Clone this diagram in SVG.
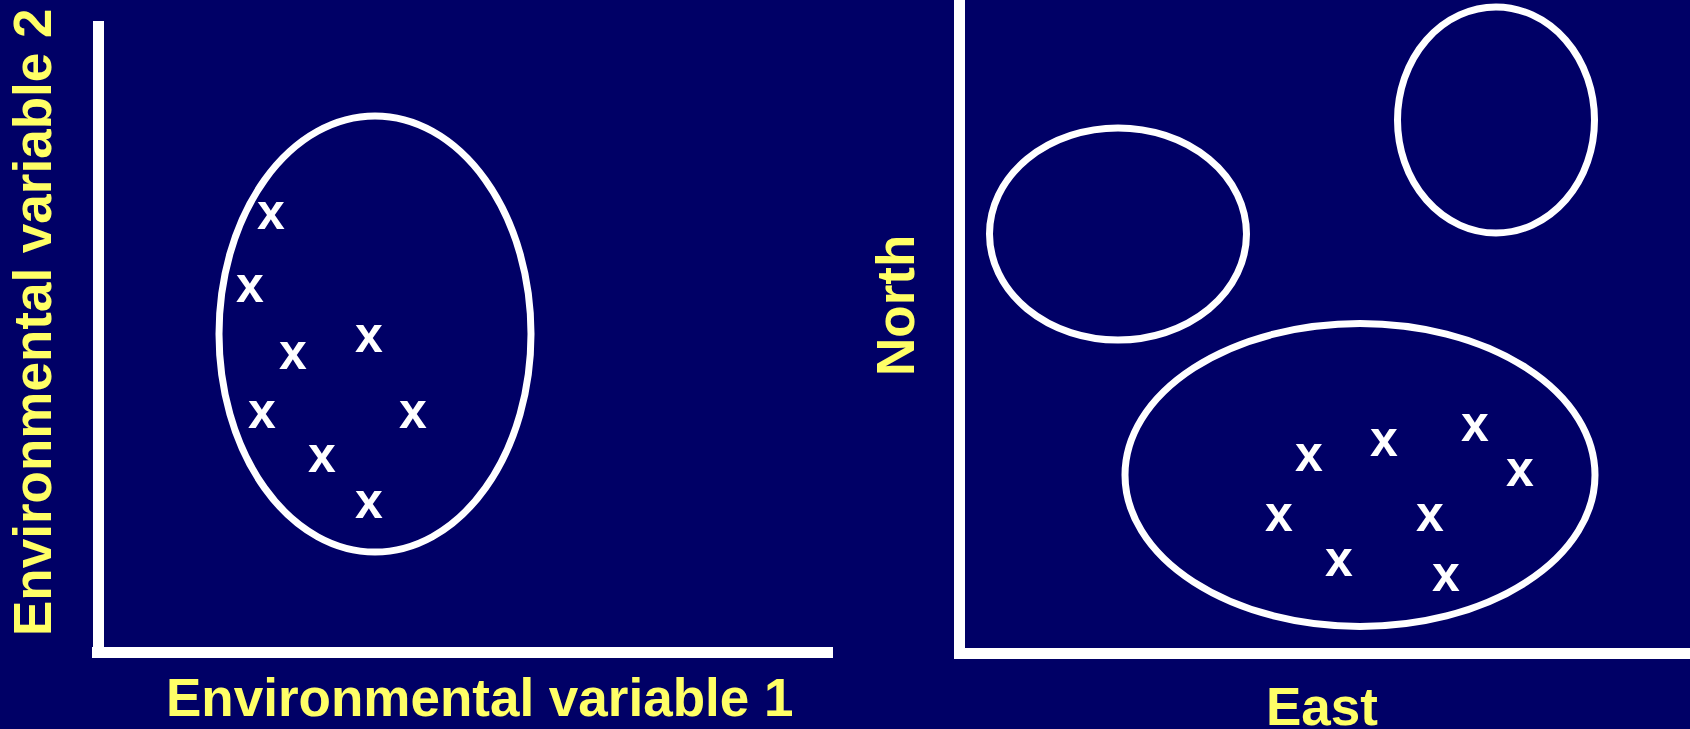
<svg xmlns="http://www.w3.org/2000/svg" width="1690" height="729" viewBox="0 0 1690 729">
<style>
.bg{fill:#000066}
.axis{fill:#ffffff}
.ell{fill:none;stroke:#ffffff;stroke-width:7}
.lbl{font-family:"Liberation Sans",Arial,sans-serif;font-weight:bold;font-size:53px;fill:#ffff66}
.pt{font-family:"Liberation Sans",Arial,sans-serif;font-weight:bold;font-size:50px;fill:#ffffff;text-anchor:middle}
</style>
<rect class="bg" x="0" y="0" width="1690" height="729"/>
<g id="left-panel">
  <g id="left-axes">
    <rect class="axis" x="93" y="21" width="11" height="632"/>
    <rect class="axis" x="92" y="647" width="741" height="11"/>
  </g>
  <text class="lbl" transform="translate(51,636) rotate(-90)">Environmental variable 2</text>
  <text class="lbl" x="166" y="716">Environmental variable 1</text>
  <g id="left-cluster">
    <ellipse class="ell" cx="375" cy="334" rx="156" ry="218"/>
    <text class="pt" x="271" y="229">x</text>
    <text class="pt" x="250" y="302">x</text>
    <text class="pt" x="293" y="369">x</text>
    <text class="pt" x="369" y="352">x</text>
    <text class="pt" x="262" y="428">x</text>
    <text class="pt" x="413" y="428">x</text>
    <text class="pt" x="322" y="472">x</text>
    <text class="pt" x="369" y="518">x</text>
  </g>
</g>
<g id="right-panel">
  <g id="right-axes">
    <rect class="axis" x="954" y="0" width="11" height="652"/>
    <rect class="axis" x="954" y="648" width="736" height="11"/>
  </g>
  <text class="lbl" transform="translate(914,376) rotate(-90)">North</text>
  <text class="lbl" x="1266" y="725">East</text>
  <g id="cluster-west">
    <ellipse class="ell" cx="1118" cy="234" rx="128.5" ry="106"/>
  </g>
  <g id="cluster-northeast">
    <ellipse class="ell" cx="1496" cy="120" rx="98.5" ry="113"/>
  </g>
  <g id="cluster-south">
    <ellipse class="ell" cx="1360" cy="475" rx="235" ry="151.5"/>
    <text class="pt" x="1309" y="471">x</text>
    <text class="pt" x="1384" y="456">x</text>
    <text class="pt" x="1475" y="441">x</text>
    <text class="pt" x="1520" y="486">x</text>
    <text class="pt" x="1279" y="531">x</text>
    <text class="pt" x="1430" y="531">x</text>
    <text class="pt" x="1339" y="576">x</text>
    <text class="pt" x="1446" y="591">x</text>
  </g>
</g>
</svg>
